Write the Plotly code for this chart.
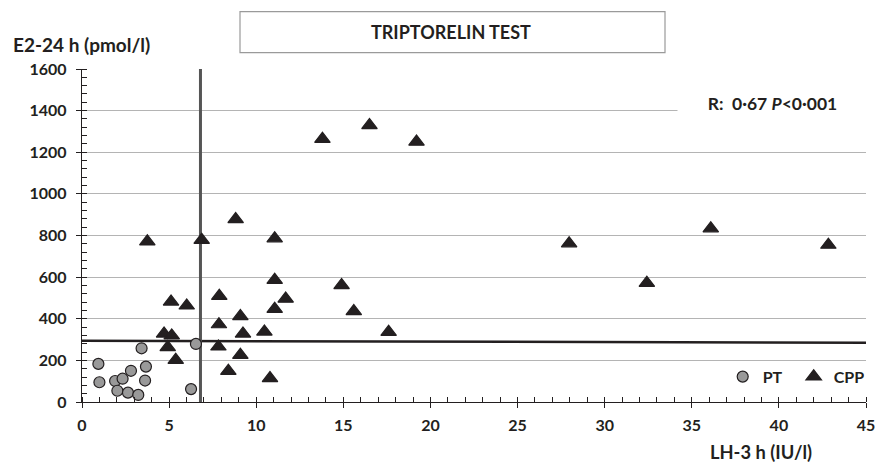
import plotly.graph_objects as go

# ---- data ----
pt_lh = [0.94, 1.0, 1.9, 2.03, 2.33, 2.64, 2.81, 3.23, 3.42, 3.67, 3.62, 6.54, 6.26]
pt_e2 = [183, 95, 101, 54, 112, 45, 150, 34, 258, 170, 103, 279, 62]

cpp_lh = [3.75, 6.87, 8.82, 11.06, 13.8, 16.5, 19.2, 27.96, 32.42, 36.09, 42.84,
          11.06, 11.69, 11.06, 14.9, 15.6, 17.6, 5.11, 6.01, 7.88, 7.86, 9.09,
          9.24, 10.47, 4.71, 5.15, 4.92, 5.38, 7.83, 9.09, 8.40, 10.79]
cpp_e2 = [771, 778, 878, 786, 1264, 1330, 1250, 762, 572, 834, 755,
          586, 496, 447, 561, 436, 336, 482, 463, 509, 373, 412,
          328, 338, 328, 319, 263, 202, 266, 226, 149, 114]

vline_x = [6.8, 6.8]
vline_y = [0, 1600]
hline_x = [0, 45]
hline_y = [294, 285]

x_ticks = [0, 5, 10, 15, 20, 25, 30, 35, 40, 45]
y_ticks = [0, 200, 400, 600, 800, 1000, 1200, 1400, 1600]

FONT = "Lato, Open Sans, sans-serif"
INK = "#231f20"

# figure fills the window (page body margin removed below); plot area in pixels
FIG_W, FIG_H = 877, 464
L, R, T, B = 82, 866, 69, 402
W, H = R - L, B - T


def px(x):
    return (x - L) / W


def py(y):
    return (B - y) / H


fig = go.Figure()

fig.add_trace(go.Scatter(x=hline_x, y=hline_y, mode="lines",
                         line=dict(color=INK, width=2.5), showlegend=False, hoverinfo="skip"))
fig.add_trace(go.Scatter(x=vline_x, y=vline_y, mode="lines",
                         line=dict(color="#555555", width=3), showlegend=False, hoverinfo="skip"))
fig.add_trace(go.Scatter(x=pt_lh, y=pt_e2, mode="markers", name="PT",
                         marker=dict(symbol="circle", size=11, color="#999999",
                                     line=dict(color=INK, width=1.2))))
fig.add_trace(go.Scatter(x=cpp_lh, y=cpp_e2, mode="markers", name="CPP",
                         marker=dict(symbol="triangle-up", size=13.5, color=INK,
                                     line=dict(color=INK, width=1.2))))
# dummy trace for the overlay axes (inside half of the crossing major ticks)
fig.add_trace(go.Scatter(x=[0], y=[0], xaxis="x2", yaxis="y2", mode="markers",
                         marker=dict(opacity=0), showlegend=False, hoverinfo="skip"))

axis_common = dict(showline=True, linecolor=INK, linewidth=1.3, zeroline=False,
                   ticks="outside", ticklen=5, tickwidth=1.3, tickcolor=INK, automargin=False,
                   tickfont=dict(family=FONT, size=16, color=INK, weight="bold"))

fig.update_layout(
    width=FIG_W, height=FIG_H,
    margin=dict(l=L, r=FIG_W - R, t=T, b=FIG_H - B, autoexpand=False),
    paper_bgcolor="white", plot_bgcolor="white",
    xaxis=dict(range=[0, 45], tickvals=x_ticks, showgrid=False,
               minor=dict(dtick=1, ticks="inside", ticklen=5, tickwidth=1.2, tickcolor=INK),
               ticklabelstandoff=4, **axis_common),
    yaxis=dict(range=[0, 1600], tickvals=y_ticks, showgrid=True, gridcolor="#b4b4b4", gridwidth=1.3,
               minor=dict(dtick=40, ticks="inside", ticklen=5, tickwidth=1.2, tickcolor=INK),
               ticklabelstandoff=6, **axis_common),
    xaxis2=dict(overlaying="x", matches="x", range=[0, 45], tickvals=x_ticks, ticks="inside",
                ticklen=5, tickwidth=1.3, tickcolor=INK, showticklabels=False, showgrid=False,
                showline=False, zeroline=False),
    yaxis2=dict(overlaying="y", matches="y", range=[0, 1600], tickvals=y_ticks, ticks="inside",
                ticklen=5, tickwidth=1.3, tickcolor=INK, showticklabels=False, showgrid=False,
                showline=False, zeroline=False),
    showlegend=True,
    legend=dict(orientation="h", x=px(722.7), xanchor="left", y=py(376.7), yanchor="middle",
                entrywidth=26, entrywidthmode="pixels", bgcolor="rgba(0,0,0,0)",
                font=dict(family=FONT, size=16, color=INK, weight="bold"), itemsizing="trace"),
    font=dict(family=FONT, color=INK),
)

# title box
fig.add_shape(type="rect", xref="paper", yref="paper",
              x0=px(240), x1=px(665), y0=py(52.7), y1=py(11.7),
              line=dict(color="#9a9a9a", width=1.2), fillcolor="white")
fig.add_annotation(xref="paper", yref="paper", x=px(451), y=py(31.5),
                   xanchor="center", yanchor="middle",
                   text="<b>TRIPTORELIN TEST</b>", showarrow=False,
                   font=dict(family=FONT, size=18, color=INK))
# axis titles
fig.add_annotation(xref="paper", yref="paper", x=px(11), y=py(44),
                   xanchor="left", yanchor="middle", text="<b>E2-24 h (pmol/l)</b>", showarrow=False,
                   font=dict(family=FONT, size=19, color=INK))
fig.add_annotation(xref="paper", yref="paper", x=px(761), y=py(452),
                   xanchor="center", yanchor="middle",
                   text="<b>LH-3 h (IU/l)</b>", showarrow=False,
                   font=dict(family=FONT, size=18.3, color=INK))
# statistics
fig.add_annotation(xref="paper", yref="paper", x=px(772.5), y=py(103),
                   xanchor="center", yanchor="middle",
                   text="<b>R:  0·67 <i>P</i><0·001</b>", showarrow=False,
                   width=187, height=22, bgcolor="white",
                   font=dict(family=FONT, size=17.5, color=INK))

fig.write_html("out.html", config={"displayModeBar": False},
               post_script="document.body.style.margin='0px';document.body.style.overflow='hidden';")
